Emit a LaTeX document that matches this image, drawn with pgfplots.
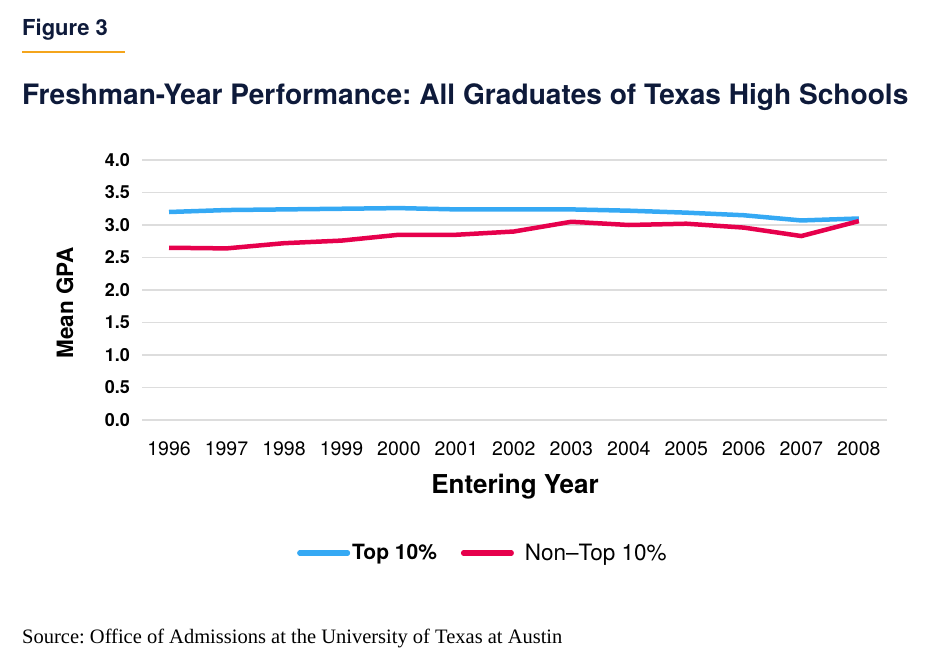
\documentclass[border=0pt]{standalone}
\usepackage{pgfplots}
\pgfplotsset{compat=1.18}
\usepackage{fontspec}
\setmainfont{TeX Gyre Heros}
\newfontfamily\serif{Liberation Serif}
\definecolor{topblue}{HTML}{35A9F4}
\definecolor{nonred}{HTML}{E6004C}
\definecolor{navy}{HTML}{0E1A3A}
\definecolor{gold}{HTML}{F4A51C}
\definecolor{gridgray}{HTML}{DDDDDD}
\frenchspacing
\pgfplotstableread{
year top non
1996 3.20 2.65
1997 3.23 2.64
1998 3.24 2.72
1999 3.25 2.76
2000 3.26 2.85
2001 3.24 2.85
2002 3.24 2.90
2003 3.24 3.05
2004 3.22 3.00
2005 3.19 3.02
2006 3.15 2.96
2007 3.07 2.83
2008 3.10 3.06
}\gpadata
\begin{document}
\begin{tikzpicture}
\path[use as bounding box] (0,0) rectangle (931bp,-658bp);
\node[anchor=base west, inner sep=0pt, font=\fontsize{22bp}{26bp}\selectfont\bfseries, text=navy] at (22bp,-35bp) {Figure 3};
\draw[gold, line width=1.2bp] (22bp,-52bp) -- (125bp,-52bp);
\node[anchor=base west, inner sep=0pt, font=\fontsize{28.1bp}{32bp}\selectfont\bfseries, text=navy] at (22bp,-104bp) {Freshman-Year Performance: All Graduates of Texas High Schools};
\begin{axis}[
  at={(142bp,-420bp)}, anchor=south west,
  scale only axis, width=745bp, height=260bp,
  xmin=1995.53, xmax=2008.49, ymin=0, ymax=4,
  axis line style={draw=none},
  xtick={1996,...,2008},
  ytick={0,0.5,...,4.0},
  major tick length=0pt,
  tick style={draw=none},
  ymajorgrids, grid style={gridgray, line width=1.6bp},
  /pgf/number format/assume math mode=true,
  x tick label style={/pgf/number format/1000 sep={}, font=\fontsize{19.5bp}{22bp}\selectfont, inner sep=0pt, yshift=-21bp},
  y tick label style={/pgf/number format/fixed, /pgf/number format/fixed zerofill, /pgf/number format/precision=1, font=\fontsize{18bp}{22bp}\selectfont\bfseries, inner sep=0pt, anchor=east, xshift=-12bp},
  legend columns=2,
  legend style={at={(axis description cs:0.208,-0.5115)}, anchor=west, draw=none, inner sep=0pt, font=\fontsize{21bp}{24bp}\selectfont, /tikz/every even column/.append style={column sep=22bp}},
  legend image code/.code={\draw[line width=5bp, line cap=round, #1] (0bp,0bp) -- (48bp,0bp);},
  clip=false,
]
\addplot[topblue, line width=4.5bp, line join=round] table[x=year, y=top] {\gpadata};
\addlegendentry{\textbf{Top 10\%}}
\addplot[nonred, line width=4.5bp, line join=round] table[x=year, y=non] {\gpadata};
\addlegendentry{\hspace*{9bp}\fontsize{22.5bp}{24bp}\selectfont Non--Top 10\%}
\end{axis}
\node[anchor=center, inner sep=0pt, font=\fontsize{26bp}{30bp}\selectfont\bfseries] at (515bp,-487bp) {Entering Year};
\node[anchor=center, rotate=90, inner sep=0pt, font=\fontsize{22.5bp}{26bp}\selectfont\bfseries] at (65bp,-303bp) {Mean GPA};
\node[anchor=base west, inner sep=0pt, font=\serif\fontsize{20.5bp}{24bp}\selectfont] at (22bp,-643bp) {Source: Office of Admissions at the University of Texas at Austin};
\end{tikzpicture}
\end{document}
